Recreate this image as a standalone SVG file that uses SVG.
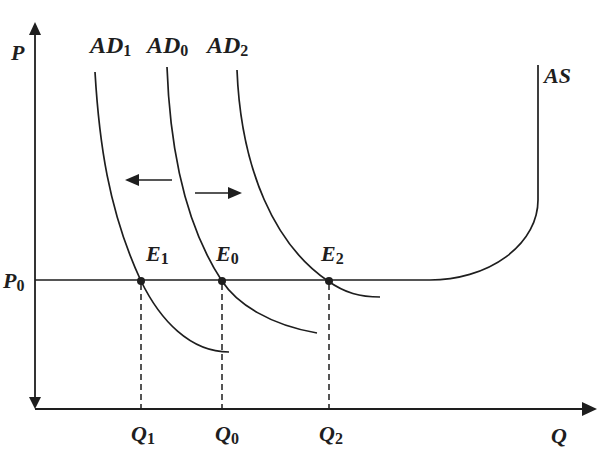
<svg xmlns="http://www.w3.org/2000/svg" width="616" height="452" viewBox="0 0 616 452">
<style>
.ln{fill:none;stroke:#1e1e1e;stroke-width:1.7}
.ax{fill:none;stroke:#1e1e1e;stroke-width:1.8}
.ds{fill:none;stroke:#1e1e1e;stroke-width:1.5;stroke-dasharray:6,4}
.hd{fill:#1e1e1e}
text{font-family:"Liberation Serif","Times New Roman",serif;font-weight:bold;font-style:italic;fill:#1e1e1e;font-size:22px}
.big{font-size:24px}
.sub{font-style:normal;font-size:16px}
</style>
<rect width="616" height="452" fill="#ffffff"/>
<g id="axes">
<line class="ax" x1="35" y1="30" x2="35" y2="402"/>
<polygon class="hd" points="35,22 29,35 41,35"/>
<polygon class="hd" points="35,409 29,397 41,397"/>
<line class="ax" x1="35" y1="409" x2="586" y2="409"/>
<polygon class="hd" points="597,409 582,402 582,416"/>
<text x="11" y="60">P</text>
<text x="551" y="443">Q</text>
</g>
<g id="connectors">
<path id="AD1" class="ln" d="M95,72 C99,140 108,210 141,281 C160,320 190,352 229,352"/>
<path id="AD0" class="ln" d="M167,67 C170,150 185,225 222,281 C237,304 270,325 317,333"/>
<path id="AD2" class="ln" d="M237,70 C241,170 275,245 328,281 C345,293 360,297 380,297"/>
<path id="AS" class="ln" d="M35,280 L430,280 A108,80 0 0 0 538,200 L538,65"/>
<line class="ds" x1="141" y1="284" x2="141" y2="408"/>
<line class="ds" x1="222" y1="284" x2="222" y2="408"/>
<line class="ds" x1="329" y1="284" x2="329" y2="408"/>
<line class="ln" x1="172" y1="180" x2="136" y2="180"/>
<polygon class="hd" points="125,180 139,174 139,186"/>
<line class="ln" x1="195" y1="193" x2="231" y2="193"/>
<polygon class="hd" points="242,193 228,187 228,199"/>
</g>
<g id="E1"><circle class="hd" cx="141" cy="281" r="4"/><text x="146" y="261">E<tspan class="sub" dy="3">1</tspan></text></g>
<g id="E0"><circle class="hd" cx="222" cy="281" r="4"/><text x="216" y="261">E<tspan class="sub" dy="3">0</tspan></text></g>
<g id="E2"><circle class="hd" cx="329" cy="281" r="4"/><text x="321" y="261">E<tspan class="sub" dy="3">2</tspan></text></g>
<g id="labels">
<text class="big" x="90" y="53">AD<tspan class="sub" dy="3">1</tspan></text>
<text class="big" x="147" y="53">AD<tspan class="sub" dy="3">0</tspan></text>
<text class="big" x="207" y="53">AD<tspan class="sub" dy="3">2</tspan></text>
<text x="544" y="83">AS</text>
<text x="3" y="288">P<tspan class="sub" dy="3">0</tspan></text>
<text x="131" y="441">Q<tspan class="sub" dy="3">1</tspan></text>
<text x="215" y="441">Q<tspan class="sub" dy="3">0</tspan></text>
<text x="319" y="441">Q<tspan class="sub" dy="3">2</tspan></text>
</g>
</svg>
